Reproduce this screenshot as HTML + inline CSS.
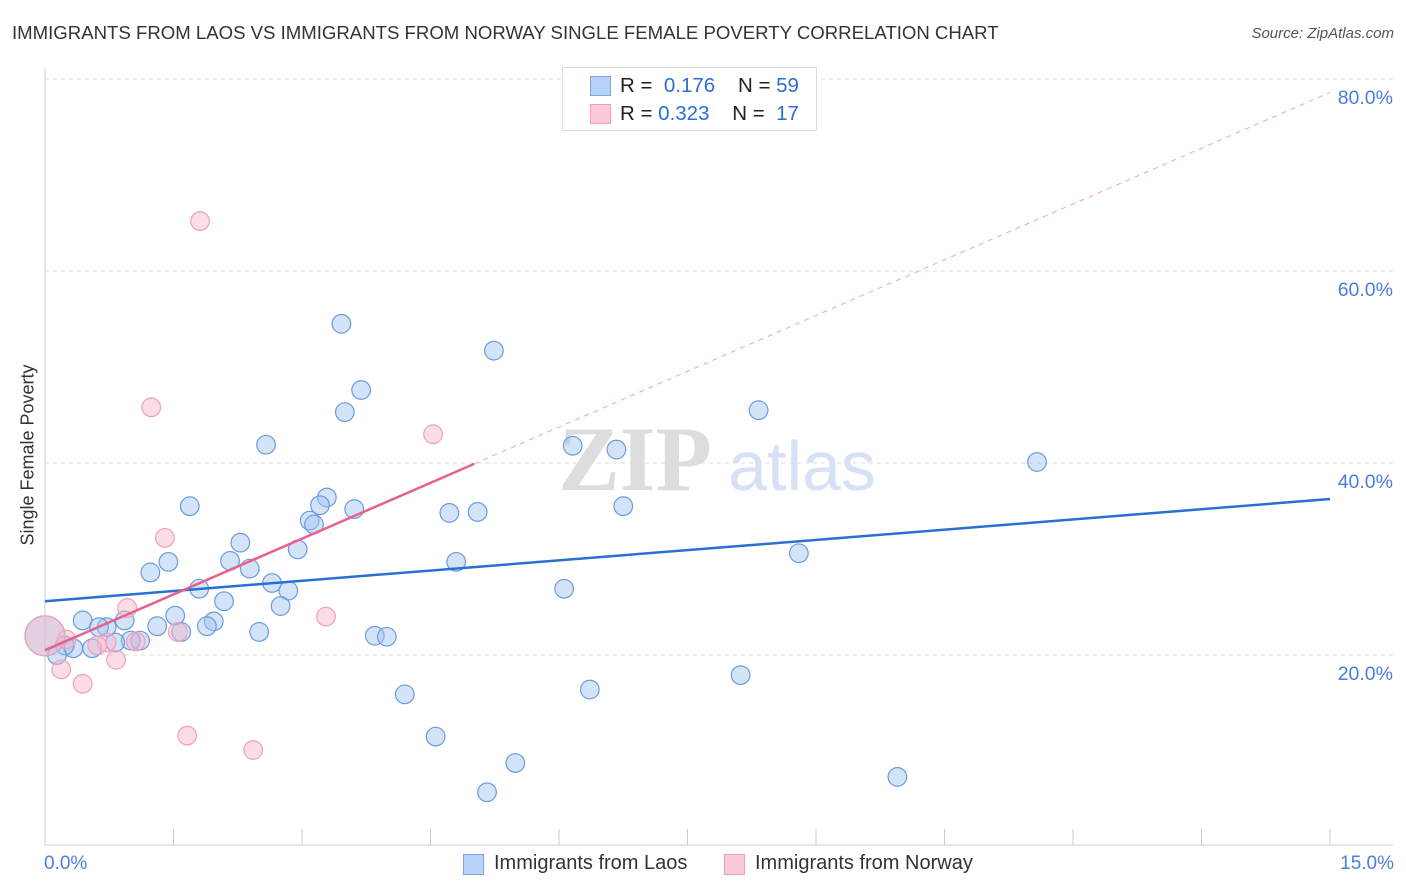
<!DOCTYPE html>
<html><head><meta charset="utf-8"><style>
body{margin:0;background:#fff;font-family:"Liberation Sans",sans-serif;}
#wrap{position:relative;width:1406px;height:892px;overflow:hidden;}
.t{position:absolute;white-space:nowrap;}
</style></head><body>
<div id="wrap">
<div class="t" style="left:12px;top:22px;font-size:18.6px;color:#333;">IMMIGRANTS FROM LAOS VS IMMIGRANTS FROM NORWAY SINGLE FEMALE POVERTY CORRELATION CHART</div>
<div class="t" style="right:12px;top:25px;font-size:15px;color:#555;font-style:italic;">Source: ZipAtlas.com</div>
<div class="t" style="left:28px;top:455px;font-size:18px;color:#333;transform:translate(-50%,-50%) rotate(-90deg);">Single Female Poverty</div>
<svg id="plot" width="1406" height="892" style="position:absolute;left:0;top:0"></svg>
<div class="t" style="left:562px;top:67px;width:253px;height:62px;border:1px solid #ddd;background:#fff;font-size:20.5px;color:#222;">
 <div style="position:absolute;left:27px;top:8px;width:19px;height:18px;background:#b8d2f6;border:1px solid #7aa6e4"></div>
 <div style="position:absolute;left:57px;top:6px">R = &nbsp;<span style="color:#2a6fd4">0.176</span>&nbsp;&nbsp;&nbsp; N = <span style="color:#2a6fd4">59</span></div>
 <div style="position:absolute;left:27px;top:36px;width:19px;height:18px;background:#fbcad8;border:1px solid #f0a0b8"></div>
 <div style="position:absolute;left:57px;top:34px">R = <span style="color:#2a6fd4">0.323</span>&nbsp;&nbsp;&nbsp; N = &nbsp;<span style="color:#2a6fd4">17</span></div>
</div>
<div class="t" style="left:44px;top:853px;font-size:19px;color:#4a7fd8;">0.0%</div>
<div class="t" style="right:12px;top:853px;font-size:19px;color:#4a7fd8;">15.0%</div>
<div style="position:absolute;left:463px;top:854px;width:19px;height:19px;background:#b8d2f6;border:1px solid #7aa6e4"></div>
<div class="t" style="left:494px;top:852px;font-size:20px;color:#333;">Immigrants from Laos</div>
<div style="position:absolute;left:724px;top:854px;width:19px;height:19px;background:#fbcad8;border:1px solid #f0a0b8"></div>
<div class="t" style="left:755px;top:852px;font-size:20px;color:#333;">Immigrants from Norway</div>
</div>
<script>
const yTicks=[20,40,60,80];
const yTickLabels=["20.0%","40.0%","60.0%","80.0%"];
const xTicks=[0,1.5,3,4.5,6,7.5,9,10.5,12,13.5,15];
const laosX=[3.46,5.24,3.69,3.50,8.33,2.58,6.16,6.67,11.58,1.69,3.29,3.21,3.61,4.72,5.05,6.75,3.09,3.14,2.28,2.95,1.44,2.16,1.23,2.39,4.80,8.80,2.65,1.80,2.84,6.06,2.09,2.75,0.44,0.93,1.52,1.31,1.97,1.89,0.72,1.59,2.50,3.85,3.99,1.11,1.00,0.82,0.33,0.55,0.23,0.14,4.20,6.36,8.12,4.56,5.49,5.16,9.95,0.63,0.0];
const laosY=[54.5,51.7,47.6,45.3,45.5,41.9,41.8,41.4,40.1,35.5,36.4,35.6,35.2,34.8,34.9,35.5,34.0,33.6,31.7,31.0,29.7,29.8,28.6,29.0,29.7,30.6,27.5,26.9,26.7,26.9,25.6,25.1,23.6,23.6,24.1,23.0,23.5,23.0,22.9,22.4,22.4,22.0,21.9,21.5,21.5,21.3,20.7,20.7,21.0,20.0,15.9,16.4,17.9,11.5,8.75,5.7,7.3,22.9,22.0];
const laosBig=[58];
const norX=[1.81,1.24,4.53,1.40,0.96,3.28,1.55,0.72,0.61,1.06,0.83,0.19,0.44,1.66,2.43,0.25,0.0];
const norY=[65.2,45.8,43.0,32.2,24.9,24.0,22.4,21.3,21.0,21.4,19.5,18.5,17.0,11.6,10.1,21.6,22.0];
const norBig=[16];
const laosTrend=[25.6,36.25];
const norTrend=[20.5,78.6];
const norSolidEnd=5.01;

const NS="http://www.w3.org/2000/svg";
const svg=document.getElementById('plot');
const X=v=>45+v/15*1285;
const Y=v=>847-v*9.6;
function mk(tag,attrs){const e=document.createElementNS(NS,tag);for(const k in attrs)e.setAttribute(k,attrs[k]);svg.appendChild(e);return e;}
yTicks.forEach((t,i)=>{
 const g=mk('line',{x1:45,x2:1393,y1:Y(t),y2:Y(t),stroke:'#ddd','stroke-dasharray':'4,4'});
 
 
 const tx=mk('text',{x:1393,y:Y(t)+25,'text-anchor':'end','font-size':19.5,fill:'#4a7fd8','font-family':'Liberation Sans, sans-serif'});
 tx.textContent=yTickLabels[i];
 
 
});
const ax=mk('line',{x1:45,x2:45,y1:68,y2:845,stroke:'#ccc'});


const bx=mk('line',{x1:45,x2:1393,y1:845,y2:845,stroke:'#ccc'});


xTicks.forEach(t=>{
 const l=mk('line',{x1:X(t),x2:X(t),y1:829,y2:845,stroke:'#ccc'});
 
 
});
const w1=mk('text',{x:635,y:490,'text-anchor':'middle','font-size':92,fill:'#ddd','font-family':'Liberation Serif, serif','font-weight':'bold'});
w1.textContent='ZIP';


const w2=mk('text',{x:802,y:490,'text-anchor':'middle','font-size':70,fill:'#d6e2f4','font-family':'Liberation Sans, sans-serif'});
w2.textContent='atlas';


function pts(xs,ys,big,fill,stroke,name){
 xs.forEach((x,i)=>{
  const c=mk('circle',{cx:X(x),cy:Y(ys[i]),r:big.includes(i)?20:9.3,fill:fill,stroke:stroke,'stroke-width':1.2});
  
  
 });
}
pts(laosX,laosY,laosBig,'rgba(160,196,240,0.45)','#6a9be0','laos-point');
pts(norX,norY,norBig,'rgba(248,180,200,0.45)','#eea0b8','norway-point');
const lt=mk('line',{x1:X(0),y1:Y(laosTrend[0]),x2:X(15),y2:Y(laosTrend[1]),stroke:'#2a6fd4','stroke-width':2.5});


const nAt=x=>norTrend[0]+(norTrend[1]-norTrend[0])*x/15;
const nd=mk('line',{x1:X(norSolidEnd),y1:Y(nAt(norSolidEnd)),x2:X(15),y2:Y(norTrend[1]),stroke:'#eea0b8','stroke-width':1,'stroke-dasharray':'5,5'});


const ns=mk('line',{x1:X(0),y1:Y(norTrend[0]),x2:X(norSolidEnd),y2:Y(nAt(norSolidEnd)),stroke:'#e8608e','stroke-width':2.5});


</script>
</body></html>
